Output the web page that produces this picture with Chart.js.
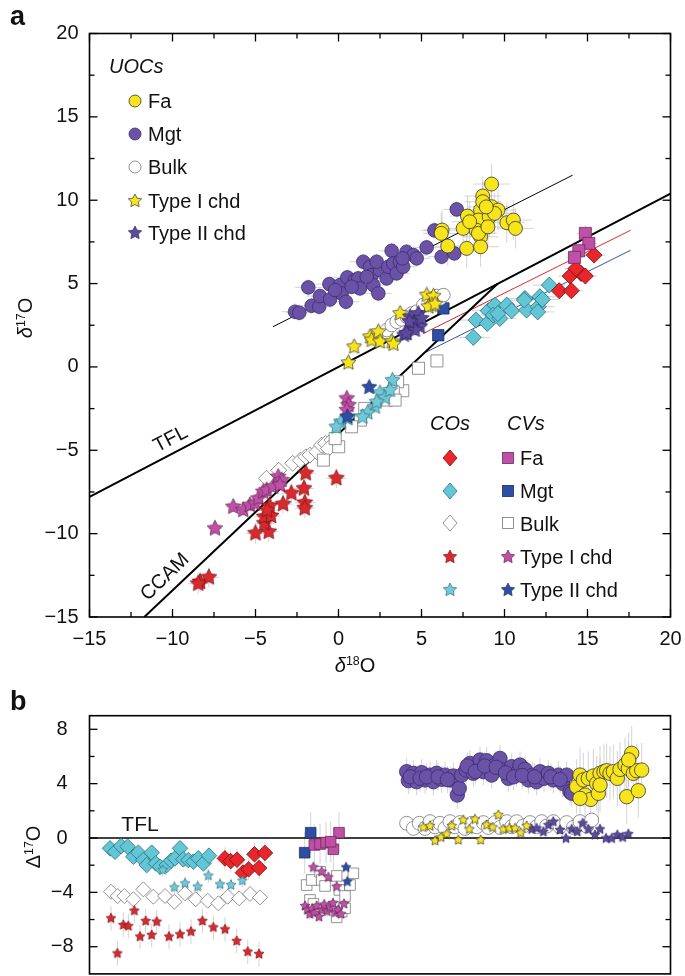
<!DOCTYPE html>
<html><head><meta charset="utf-8">
<script src="https://cdn.jsdelivr.net/npm/chart.js@4.4.1/dist/chart.umd.min.js"></script>
<style>
body{margin:0;background:#fff;width:685px;height:976px;overflow:hidden;position:relative;font-family:"Liberation Sans",Arial,Helvetica,sans-serif;color:#111;}
canvas{position:absolute;left:0;}
.t{position:absolute;white-space:nowrap;font-size:20px;line-height:1;}
.i{font-style:italic;}
.mk{position:absolute;}
sup{font-size:0.62em;vertical-align:0;position:relative;top:-0.55em;}
</style>
</head><body>
<canvas id="ca" width="685" height="690" style="top:0"></canvas>
<canvas id="cb" width="685" height="286" style="top:690px"></canvas>
<div id="ov"></div>
<script>
// ---------------- DATA: panel a (δ18O, δ17O) ----------------
const aXTicks = [-15,-10,-5,0,5,10,15,20];
const aYTicks = [-15,-10,-5,0,5,10,15,20];
const aXMinor = [-12.5,-7.5,-2.5,2.5,7.5,12.5,17.5];
const aYMinor = [-12.5,-7.5,-2.5,2.5,7.5,12.5,17.5];

// reference lines (end points)
const lineTFL  = [[-15,-7.8],[20,10.4]];
const lineCCAM = [[-11.7,-15],[9.6,5.0]];
const lineUOC  = [[-3.95,2.41],[14.1,11.5]];
const lineRed  = [[5.1,2.0],[17.6,8.2]];
const lineBlue = [[5.1,0.8],[17.6,7.0]];

// UOCs
const aUocFa = [[9.22,10.97],[8.69,10.25],[9.22,9.61],[9.61,9.41],[8.56,9.41],[7.77,9.05],[8.43,8.81],[7.51,8.31],[6.24,8.21],[6.19,8.01],[8.29,8.21],[8.56,7.81],[8.56,7.21],[7.72,7.11],[6.58,7.25],[9.08,9.01],[9.40,9.21],[10.14,8.65],[10.53,8.81],[10.66,8.31],[8.43,8.01],[7.90,8.71],[8.69,9.91],[8.9,9.6],[9.0,8.4]];
const aUocMgt = [[-2.62,3.31],[-2.36,3.25],[-1.62,3.67],[-1.16,3.61],[-1.12,4.25],[-1.82,4.77],[-0.55,4.97],[-0.51,4.05],[0.09,4.91],[0.19,4.41],[0.45,3.91],[0.53,5.37],[0.99,5.21],[1.19,5.31],[1.29,4.71],[1.49,6.31],[1.90,6.01],[2.00,5.51],[2.10,4.91],[2.40,4.41],[2.50,5.81],[2.30,6.31],[2.90,5.31],[3.00,6.01],[3.20,6.97],[3.30,6.21],[3.50,5.61],[3.70,6.31],[3.90,6.01],[4.10,6.91],[4.51,6.71],[4.71,6.51],[3.86,6.51],[5.31,7.17],[6.21,6.61],[7.12,9.45],[5.78,8.19],[0.79,4.81],[-0.21,4.61],[1.70,5.41],[6.98,6.81]];
const aUocBulk = [[2.91,2.21],[3.21,2.51],[3.51,2.71],[3.81,2.85],[4.11,3.01],[4.41,3.21],[4.71,3.31],[5.92,4.25],[6.12,4.11],[6.32,4.31],[5.62,3.97],[5.11,3.71]];
const aUocT1 = [[0.60,0.25],[0.94,1.21],[1.90,1.81],[2.00,1.61],[2.40,2.11],[2.50,1.51],[3.21,1.51],[3.31,1.37],[3.71,3.21],[5.32,4.31],[5.72,4.25],[5.62,3.71],[5.42,3.61],[5.82,3.77]];
const aUocT2 = [[4.31,3.01],[4.51,2.61],[4.71,2.81],[4.91,2.41],[4.41,2.31],[4.81,3.21],[4.11,2.01],[4.61,2.21],[5.01,2.91],[4.27,2.71],[3.95,1.91],[4.08,2.02]];
// COs
const aCoFa = [[15.40,6.71],[13.95,5.45],[14.61,5.61],[14.87,5.45],[13.30,4.57],[14.03,4.57],[14.3,5.9]];
const aCoMgt = [[8.12,1.77],[8.28,2.81],[8.96,2.61],[9.02,3.37],[9.42,3.71],[9.32,3.11],[9.72,2.91],[10.13,3.71],[10.43,3.37],[11.23,4.11],[11.33,3.41],[12.03,3.61],[12.13,4.21],[12.29,4.05],[12.70,4.91],[11.19,4.01],[9.6,3.2],[12.0,3.3]];
const aCoBulk = [[-4.34,-6.68],[-3.6,-6.2],[-2.76,-5.78],[-2.3,-5.6],[-1.97,-5.39],[-1.72,-5.29],[-1.31,-5.09],[-1.02,-4.69],[-0.78,-4.59],[-0.39,-4.39],[-0.6,-4.9]];
const aCoT1 = [[-8.34,-12.89],[-7.81,-12.62],[-8.45,-13.0],[-5.0,-9.98],[-4.2,-9.89],[-4.47,-9.38],[-4.47,-9.0],[-4.07,-8.94],[-4.15,-8.34],[-3.34,-8.23],[-2.84,-7.58],[-2.03,-8.15],[-2.03,-8.48],[-2.08,-7.29],[-1.97,-6.38],[-0.13,-6.68],[-4.3,-8.6]];
const aCoT2 = [[3.25,-0.8],[2.5,-1.55],[2.8,-1.85],[3.1,-1.4],[2.2,-2.4],[1.75,-2.75],[1.45,-3.0],[0.55,-3.1],[0.15,-3.3],[-0.13,-3.6],[2.3,-2.1]];
// CVs
const aCvFa = [[14.87,8.01],[15.08,7.41],[14.48,6.97],[14.22,6.57]];
const aCvMgt = [[6.32,3.51],[6.01,1.9]];
const aCvBulk = [[5.93,0.36],[4.82,-0.08],[3.87,-1.43],[3.56,-0.89],[3.30,-1.49],[2.90,-1.99],[3.41,-1.99],[1.58,-2.49],[1.32,-3.19],[0.79,-3.59],[0.01,-4.79],[-0.2,-4.3],[-0.91,-5.59]];
const aCvT1 = [[-7.44,-9.69],[-6.34,-8.39],[-5.74,-8.59],[-5.34,-8.29],[-5.03,-8.19],[-4.83,-7.89],[-4.53,-7.49],[-4.33,-7.39],[-3.93,-7.19],[-3.63,-6.59],[-3.43,-6.79],[-3.53,-7.09],[0.5,-1.89],[0.6,-2.29],[0.5,-2.59]];
const aCvT2 = [[1.85,-1.22],[0.53,-2.99]];

// ---------------- DATA: panel b (sample order, Δ17O) ----------------
const bYTicks = [-8,-4,0,4,8];
const bYMinor = [-6,-2,2,6];
const bTFL = [[0,0],[100,0]];
const bCoMgt = [[3.53,-0.76],[4.39,-1.01],[5.43,-0.59],[6.57,-0.64],[7.55,-1.38],[8.41,-1.08],[9.27,-1.62],[9.84,-1.99],[10.70,-1.08],[11.39,-1.87],[12.14,-2.11],[13.29,-1.99],[14.03,-1.67],[14.72,-1.50],[15.58,-0.76],[16.15,-1.57],[17.02,-1.62],[17.88,-1.74],[18.74,-1.50],[19.60,-1.87],[20.57,-1.30]];
const bCoFa = [[23.3,-1.5],[24.3,-1.7],[25.4,-1.6],[26.4,-2.55],[27.4,-2.3],[28.4,-1.2],[29.2,-2.2],[30.2,-1.1]];
const bCoT2 = [[12.60,-2.36],[14.61,-3.63],[16.44,-3.34],[18.62,-3.58],[20.46,-2.77],[22.47,-3.41],[24.36,-3.46],[26.31,-3.14]];
const bCoBulk = [[3.70,-3.95],[4.85,-4.27],[6.00,-4.27],[7.55,-4.51],[9.27,-3.78],[10.99,-4.32],[13.0,-4.27],[14.61,-4.69],[16.44,-4.07],[18.28,-4.51],[20.34,-4.61],[22.18,-4.81],[23.79,-4.32],[25.74,-4.44],[27.63,-4.12],[29.35,-4.37]];
const bCoT1 = [[3.70,-5.91],[4.80,-8.49],[5.83,-6.40],[6.69,-6.48],[7.72,-5.35],[8.70,-7.26],[9.67,-6.11],[10.70,-7.14],[11.57,-6.16],[13.69,-7.26],[15.58,-7.09],[17.47,-6.89],[19.43,-6.11],[21.32,-6.58],[23.33,-6.72],[25.33,-7.58],[27.23,-8.37],[29.18,-8.54]];
const bCvMgt = [[38.07,0.39],[37.04,-1.08]];
const bCvFa = [[38.7,-0.51],[39.68,-0.44],[40.71,-0.34],[41.97,-0.83],[42.95,0.39],[41.51,-0.27]];
const bCvT2 = [[44.15,-2.16],[44.38,-3.21]];
const bCvBulk = [[37.38,-3.46],[38.24,-3.09],[39.68,-2.48],[39.96,-3.09],[40.54,-3.53],[42.54,-2.79],[43.0,-3.82],[43.98,-4.27],[44.84,-3.46],[45.41,-2.60],[37.95,-4.56],[38.53,-4.85],[41.97,-5.05],[42.54,-5.84],[43.41,-5.42],[43.98,-5.17]];
const bCvT1 = [[38.53,-2.16],[39.96,-2.48],[41.11,-2.89],[42.54,-3.58],[43.81,-4.85],[37.1,-5.0],[37.5,-5.3],[37.9,-5.6],[38.3,-5.2],[38.7,-5.5],[39.1,-5.0],[39.5,-5.8],[40.0,-5.3],[40.4,-4.9],[40.9,-5.4],[41.4,-5.1],[41.9,-4.8],[42.3,-5.5],[42.8,-5.3],[43.3,-5.6]];
const bUocMgt = [[54.59,4.88],[54.88,4.22],[55.74,4.76],[56.31,4.14],[57.17,4.81],[57.75,4.27],[58.61,4.63],[59.18,4.14],[59.75,4.76],[60.61,4.32],[61.19,4.63],[62.05,4.27],[62.62,4.56],[63.31,3.16],[63.65,3.65],[64.06,4.63],[64.80,5.0],[65.49,5.49],[66.06,4.76],[66.64,5.25],[67.21,5.74],[67.79,4.88],[68.36,5.69],[69.22,4.63],[69.79,5.37],[70.65,5.86],[71.23,5.0],[72.09,4.39],[72.66,5.25],[73.52,4.76],[74.10,5.37],[74.96,5.05],[75.53,4.27],[76.28,4.63],[76.96,4.14],[77.54,4.88],[78.23,4.39],[78.97,4.76],[79.83,4.27],[80.69,4.63],[81.44,4.02],[82.13,4.63],[82.70,3.41],[82.99,3.29],[55.2,4.5],[56.9,4.4],[58.0,4.5],[60.0,4.5],[61.6,4.3],[65.0,5.3],[66.4,4.9],[68.0,5.3],[70.0,5.2],[71.6,4.8],[73.0,4.5],[74.5,4.6],[76.6,4.5],[79.4,4.5],[81.0,4.3]];
const bUocFa = [[83.85,3.78],[84.42,4.63],[85.0,4.27],[85.28,3.16],[85.86,4.39],[86.26,2.84],[86.72,4.56],[87.29,4.02],[87.58,3.29],[87.87,4.76],[88.55,4.88],[89.01,4.95],[89.59,4.76],[90.16,4.88],[90.85,4.39],[91.31,5.05],[92.17,5.37],[92.74,5.12],[93.32,6.23],[93.60,4.76],[94.18,4.95],[92.46,3.04],[94.46,3.48],[95.04,5.0],[84.42,2.92],[87.87,3.9],[92.8,5.75]];
const bUocBulk = [[54.59,1.08],[55.74,0.71],[56.77,1.08],[57.75,0.71],[58.61,1.20],[59.47,0.83],[60.33,1.08],[61.19,0.71],[62.05,1.20],[62.91,0.83],[63.77,1.13],[64.63,0.71],[65.78,1.08],[66.64,0.83],[67.79,1.13],[68.65,0.78],[69.79,1.13],[70.65,0.78],[71.80,1.20],[72.66,0.83],[73.52,1.20],[74.67,0.88],[75.82,1.13],[76.96,0.83],[77.83,1.20],[78.69,0.88],[79.83,1.20],[80.98,0.83],[82.13,1.13],[83.28,0.78],[84.42,1.20],[85.57,0.88],[86.43,1.32]];
const bUocT1 = [[57.46,0.78],[58.61,0.88],[59.47,-0.2],[60.5,0.05],[61.47,0.29],[62.34,0.88],[63.48,-0.15],[64.34,1.32],[65.38,0.64],[66.35,1.37],[67.33,-0.15],[68.36,0.95],[69.39,0.78],[70.37,1.69],[71.23,0.64],[72.26,0.71],[73.24,0.71],[74.21,0.39],[75.24,0.88]];
const bUocT2 = [[76.1,0.64],[76.96,0.71],[78.11,0.46],[78.97,0.95],[79.83,1.2],[80.98,0.59],[82.01,-0.03],[82.99,0.64],[83.96,0.46],[84.88,1.08],[85.86,0.64],[87.0,0.22],[87.87,0.64],[88.9,-0.03],[89.87,-0.03],[90.85,0.22],[91.77,0.05],[92.74,0.29]];

// ---------------- STYLE ----------------
const C = {
  yellow:'#f7e41b', purple:'#6a52a6', white:'#ffffff', red:'#e8262b', cyan:'#62c6d6',
  magenta:'#c04fa6', blue:'#2c4ea3', starRed:'#d82a2e', starCyan:'#6fc9d8', starPurple:'#5c4a9c',
  edge:'#333', grey:'#777'
};
const FONT = '"Liberation Sans", Arial, Helvetica, sans-serif';
Chart.defaults.font.family = FONT;
Chart.defaults.color = '#111';

function starCanvas(r, fill, stroke){
  const s = Math.ceil(r*2+3), c = document.createElement('canvas');
  c.width = c.height = s;
  const g = c.getContext('2d'), cx = s/2, cy = s/2;
  g.beginPath();
  for(let i=0;i<10;i++){
    const rr = i%2 ? r*0.5 : r, a = -Math.PI/2 + i*Math.PI/5;
    g.lineTo(cx+rr*Math.cos(a), cy+rr*Math.sin(a));
  }
  g.closePath(); g.fillStyle = fill; g.fill();
  g.lineWidth = 0.7; g.strokeStyle = stroke; g.stroke();
  return c;
}
const pts = arr => arr.map(([x,y]) => ({x,y}));

function scat(data, style, fill, stroke, r, extra){
  const o = {type:'scatter', data:pts(data), pointRadius:r, pointHoverRadius:r,
    pointBackgroundColor:fill, pointBorderColor:stroke, pointBorderWidth:0.8, order:10};
  if(style==='star'){ o.pointStyle = starCanvas(r, fill, stroke); }
  else o.pointStyle = style;
  return Object.assign(o, extra||{});
}
function refLine(data, color, w){
  return {type:'line', data:pts(data), showLine:true, borderColor:color, borderWidth:w,
    pointRadius:0, fill:false, order:50, tension:0};
}

// error bars plugin
const errPlugin = {
  id:'errbars',
  beforeDatasetsDraw(chart){
    const ctx = chart.ctx, xs = chart.scales.x, ys = chart.scales.y;
    ctx.save(); ctx.strokeStyle='rgba(175,175,175,0.55)'; ctx.lineWidth=1;
    chart.data.datasets.forEach(ds=>{
      if(!ds.errX && !ds.errY) return;
      ds.data.forEach(p=>{
        const px = xs.getPixelForValue(p.x), py = ys.getPixelForValue(p.y);
        ctx.beginPath();
        if(ds.errX){ ctx.moveTo(xs.getPixelForValue(p.x-ds.errX),py); ctx.lineTo(xs.getPixelForValue(p.x+ds.errX),py); }
        if(ds.errY){ ctx.moveTo(px,ys.getPixelForValue(p.y-ds.errY)); ctx.lineTo(px,ys.getPixelForValue(p.y+ds.errY)); }
        ctx.stroke();
      });
    });
    ctx.restore();
  }
};
// frame + inward ticks on all sides
const frameTicks = {
  id:'frameTicks',
  afterDatasetsDraw(chart, args, o){
    const {ctx, chartArea:a} = chart, xs = chart.scales.x, ys = chart.scales.y;
    ctx.save(); ctx.strokeStyle='#000';
    ctx.lineWidth = 1.6;
    ctx.strokeRect(a.left, a.top, a.right-a.left, a.bottom-a.top);
    ctx.lineWidth = 1.3;
    const L=(x1,y1,x2,y2)=>{ctx.beginPath();ctx.moveTo(x1,y1);ctx.lineTo(x2,y2);ctx.stroke();};
    const xt=(vals,len)=>vals.forEach(v=>{const p=xs.getPixelForValue(v);L(p,a.bottom,p,a.bottom-len);L(p,a.top,p,a.top+len);});
    const yt=(vals,len)=>vals.forEach(v=>{const p=ys.getPixelForValue(v);L(a.left,p,a.left+len,p);L(a.right,p,a.right-len,p);});
    if(o.xMajor) xt(o.xMajor, 8);
    if(o.xMinor) xt(o.xMinor, 5);
    if(o.yMajor) yt(o.yMajor, 8);
    if(o.yMinor) yt(o.yMinor, 5);
    ctx.restore();
  }
};
const minus = v => v<0 ? '\u2212'+Math.abs(v) : String(v);
const noPadY = w => s => { s.width = w; s.paddingTop = 0; s.paddingBottom = 0; };
const noPadX = h => s => { s.height = h; s.paddingLeft = 0; s.paddingRight = 0; };

// ---------------- CHART a ----------------
const RS = 8; // star radius a
new Chart(document.getElementById('ca'), {
  type:'scatter',
  data:{datasets:[
    scat(aUocFa,'circle',C.yellow,C.edge,7,{errX:1.1,errY:1.2,order:3}),
    scat(aUocMgt,'circle',C.purple,'#3b2c6e',6.8,{errX:0.8,errY:0.5,order:4}),
    scat(aUocT1,'star',C.yellow,C.edge,RS,{errX:0.4,errY:0.4,order:2}),
    scat(aUocT2,'star',C.starPurple,'#2e2560',RS,{order:1}),
    scat(aUocBulk,'circle',C.white,C.grey,6.8,{order:5}),
    scat(aCvFa,'rect',C.magenta,'#6a2a5c',8.5,{errX:0.5,errY:0.5,order:6}),
    scat(aCvMgt,'rect',C.blue,'#1b2f66',8,{order:6}),
    scat(aCvBulk,'rect',C.white,C.grey,8.5,{order:7}),
    scat(aCoFa,'rectRot',C.red,'#7a1010',8,{errX:0.7,errY:0.5,order:6}),
    scat(aCoMgt,'rectRot',C.cyan,'#2c6f7c',8,{errX:1.0,errY:0.5,order:6}),
    scat(aCoBulk,'rectRot',C.white,C.grey,8,{order:7}),
    scat(aCoT1,'star',C.starRed,'#7a1010',RS+0.5,{errX:0.6,errY:0.6,order:3}),
    scat(aCoT2,'star',C.starCyan,'#2c6f7c',RS,{errX:0.4,errY:0.4,order:3}),
    scat(aCvT1,'star',C.magenta,'#5a2450',RS+0.3,{errX:0.4,errY:0.3,order:3}),
    scat(aCvT2,'star',C.blue,'#1b2f66',RS,{order:2}),
    refLine(lineTFL,'#000',2),
    refLine(lineCCAM,'#000',2),
    refLine(lineUOC,'#000',1),
    refLine(lineRed,'#e2262b',1),
    refLine(lineBlue,'#3552a8',1)
  ]},
  options:{
    responsive:false, animation:false, devicePixelRatio:1,
    layout:{autoPadding:false, padding:{left:0,right:14.5,top:33.5,bottom:0}},
    plugins:{legend:{display:false},tooltip:{enabled:false},
      frameTicks:{xMajor:aXTicks,xMinor:aXMinor,yMajor:aYTicks,yMinor:aYMinor}},
    scales:{
      x:{type:'linear',min:-15,max:20,
        afterBuildTicks:s=>{s.ticks=aXTicks.map(v=>({value:v}));},
        afterFit:noPadX(73),
        grid:{display:false,drawTicks:false},border:{display:false},
        ticks:{padding:10,font:{size:20},color:'#111',callback:minus,maxRotation:0}},
      y:{type:'linear',min:-15,max:20,
        afterBuildTicks:s=>{s.ticks=aYTicks.map(v=>({value:v}));},
        afterFit:noPadY(89.5),
        grid:{display:false,drawTicks:false},border:{display:false},
        ticks:{padding:11,font:{size:20},color:'#111',callback:minus}}
    }
  },
  plugins:[errPlugin, frameTicks]
});

// ---------------- CHART b ----------------
const RB = 5.2;
new Chart(document.getElementById('cb'), {
  type:'scatter',
  data:{datasets:[
    scat(bUocT1,'star',C.yellow,C.edge,RB,{errY:0.3,order:1}),
    scat(bUocT2,'star',C.starPurple,'#2e2560',RB,{order:1}),
    scat(bUocBulk,'circle',C.white,C.grey,7,{order:4}),
    scat(bUocFa,'circle',C.yellow,C.edge,7.2,{errY:2.0,order:2}),
    scat(bUocMgt,'circle',C.purple,'#3b2c6e',7.2,{errY:1.0,order:3}),
    scat(bCvT1,'star',C.magenta,'#5a2450',RB,{errY:0.4,order:1}),
    scat(bCvT2,'star',C.blue,'#1b2f66',RB,{order:1}),
    scat(bCvBulk,'rect',C.white,C.grey,7.5,{order:4}),
    scat(bCvFa,'rect',C.magenta,'#6a2a5c',7.5,{errY:1.5,order:2}),
    scat(bCvMgt,'rect',C.blue,'#1b2f66',7.5,{errY:1.5,order:2}),
    scat(bCoT1,'star',C.starRed,'#7a1010',RB,{errY:0.9,order:1}),
    scat(bCoT2,'star',C.starCyan,'#2c6f7c',RB,{errY:0.5,order:1}),
    scat(bCoBulk,'rectRot',C.white,C.grey,7.5,{order:4}),
    scat(bCoFa,'rectRot',C.red,'#7a1010',7.8,{errY:0.8,order:2}),
    scat(bCoMgt,'rectRot',C.cyan,'#2c6f7c',7.8,{errY:0.4,order:3}),
    refLine(bTFL,'#000',1.5)
  ]},
  options:{
    responsive:false, animation:false, devicePixelRatio:1,
    layout:{autoPadding:false, padding:{left:0,right:14.5,top:25.7,bottom:2.1}},
    plugins:{legend:{display:false},tooltip:{enabled:false},
      frameTicks:{yMajor:bYTicks,yMinor:bYMinor}},
    scales:{
      x:{type:'linear',min:0,max:100,display:false},
      y:{type:'linear',min:-10,max:9,
        afterBuildTicks:s=>{s.ticks=bYTicks.map(v=>({value:v}));},
        afterFit:noPadY(89.5),
        grid:{display:false,drawTicks:false},border:{display:false},
        ticks:{padding:16,crossAlign:'center',font:{size:20},color:'#111',callback:minus}}
    }
  },
  plugins:[errPlugin, frameTicks]
});

// ---------------- TEXT / LEGENDS (HTML overlay) ----------------
function starPts(cx,cy,r){let p=[];for(let i=0;i<10;i++){const rr=i%2?r*0.5:r,a=-Math.PI/2+i*Math.PI/5;p.push((cx+rr*Math.cos(a)).toFixed(2)+','+(cy+rr*Math.sin(a)).toFixed(2));}return p.join(' ');}
function marker(kind, cx, cy, fill, stroke){
  const S=20, h=S/2; let inner='';
  if(kind==='circle') inner=`<circle cx="${h}" cy="${h}" r="6" fill="${fill}" stroke="${stroke}" stroke-width="0.8"/>`;
  if(kind==='rect') inner=`<rect x="${h-5.5}" y="${h-5.5}" width="11" height="11" fill="${fill}" stroke="${stroke}" stroke-width="0.8"/>`;
  if(kind==='diamond') inner=`<polygon points="${h},${h-8} ${h+7},${h} ${h},${h+8} ${h-7},${h}" fill="${fill}" stroke="${stroke}" stroke-width="0.8"/>`;
  if(kind==='star') inner=`<polygon points="${starPts(h,h,7)}" fill="${fill}" stroke="${stroke}" stroke-width="0.7"/>`;
  return `<svg class="mk" width="${S}" height="${S}" style="left:${cx-h}px;top:${cy-h}px">${inner}</svg>`;
}
const txt = (s, left, cy, cls, extra) => `<div class="t ${cls||''}" style="left:${left}px;top:${cy-9.8}px;${extra||''}">${s}</div>`;
let h = '';
h += `<div class="t" style="left:10px;top:3px;font-size:27px;font-weight:bold">a</div>`;
h += `<div class="t" style="left:10px;top:688px;font-size:27px;font-weight:bold">b</div>`;
// UOC legend
h += txt('UOCs',109,66,'i');
const uocLeg = [['Fa','circle',C.yellow,C.edge],['Mgt','circle',C.purple,'#3b2c6e'],['Bulk','circle','#fff',C.grey],['Type I chd','star',C.yellow,C.edge],['Type II chd','star',C.starPurple,'#2e2560']];
const uocRows = [100.7,134,167,200.5,233];
uocLeg.forEach((e,i)=>{ h += marker(e[1],134.5,uocRows[i],e[2],e[3]); h += txt(e[0],148,uocRows[i]); });
// CO / CV legend
h += txt('COs',430,423,'i'); h += txt('CVs',507,423,'i');
const rows2 = [457.7,491,523.3,556.7,590];
const coLeg = [['diamond',C.red,'#7a1010'],['diamond',C.cyan,'#2c6f7c'],['diamond','#fff',C.grey],['star',C.starRed,'#7a1010'],['star',C.starCyan,'#2c6f7c']];
const cvLeg = [['Fa','rect',C.magenta,'#6a2a5c'],['Mgt','rect',C.blue,'#1b2f66'],['Bulk','rect','#fff',C.grey],['Type I chd','star',C.magenta,'#5a2450'],['Type II chd','star',C.blue,'#1b2f66']];
rows2.forEach((y,i)=>{ h += marker(coLeg[i][0],450,y,coLeg[i][1],coLeg[i][2]); h += marker(cvLeg[i][1],508,y,cvLeg[i][2],cvLeg[i][3]); h += txt(cvLeg[i][0],520,y); });
// line labels
h += `<div class="t" style="left:170px;top:438px;transform:translate(-50%,-50%) rotate(-27.5deg)">TFL</div>`;
h += `<div class="t" style="left:164px;top:576px;transform:translate(-50%,-50%) rotate(-44deg)">CCAM</div>`;
h += `<div class="t" style="left:140px;top:823px;transform:translate(-50%,-50%);font-size:21px">TFL</div>`;
// axis titles
h += `<div class="t" style="left:25px;top:318px;transform:translate(-50%,-50%) rotate(-90deg)"><i>δ</i><sup>17</sup>O</div>`;
h += `<div class="t" style="left:355px;top:665px;transform:translate(-50%,-50%)"><i>δ</i><sup>18</sup>O</div>`;
h += `<div class="t" style="left:33px;top:847px;transform:translate(-50%,-50%) rotate(-90deg)">Δ<sup>17</sup>O</div>`;
document.getElementById('ov').innerHTML = h;
</script>
</body></html>
